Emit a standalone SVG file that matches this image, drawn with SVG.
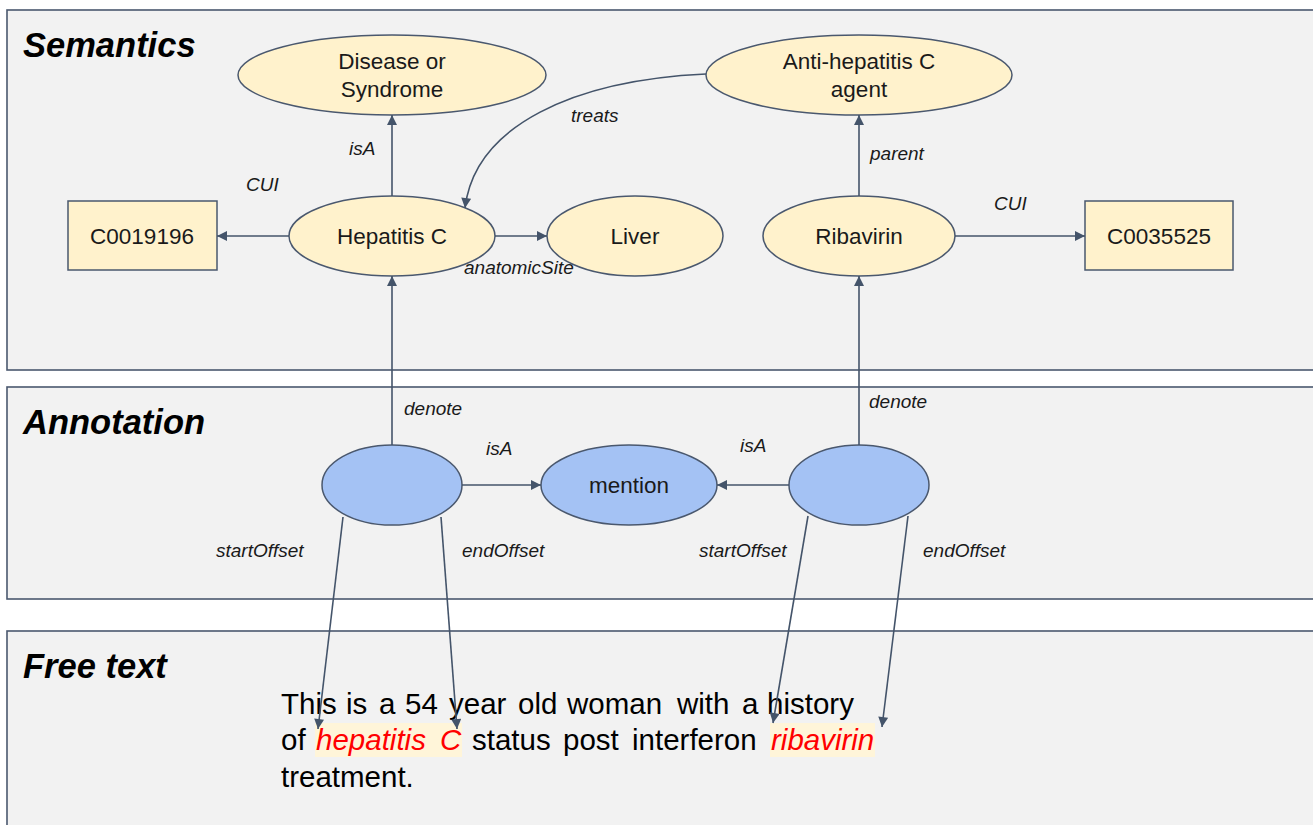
<svg xmlns="http://www.w3.org/2000/svg" width="1313" height="825" viewBox="0 0 1313 825">
  <defs>
    <marker id="arrow" viewBox="0 0 10 10" refX="10" refY="5" markerWidth="11" markerHeight="10" markerUnits="userSpaceOnUse" orient="auto">
      <path d="M0,0 L10,5 L0,10 z" fill="#44546a"/>
    </marker>
    <style>
      .panel { fill: #f2f2f2; stroke: #4a586e; stroke-width: 1.6; }
      .title { font-family: "Liberation Sans", Arial, sans-serif; font-size: 34.5px; font-weight: bold; font-style: italic; fill: #000; }
      .concept { fill: #fff2cc; stroke: #4a586e; stroke-width: 1.5; }
      .mention { fill: #a4c2f4; stroke: #4a586e; stroke-width: 1.5; }
      .label { font-family: "Liberation Sans", Arial, sans-serif; font-size: 22.5px; fill: #1a1a1a; text-anchor: middle; }
      .edge { font-family: "Liberation Sans", Arial, sans-serif; font-size: 19px; font-style: italic; fill: #1a1a1a; }
      .link { fill: none; stroke: #44546a; stroke-width: 1.6; marker-end: url(#arrow); }
      .prose { font-family: "Liberation Sans", Arial, sans-serif; font-size: 29.5px; fill: #000; }
      .hit { fill: #ff0000; font-style: italic; }
      .hl { fill: #fff5d9; }
    </style>
  </defs>

  <!-- layers -->
  <g id="semantics-panel">
    <rect class="panel" x="7" y="10" width="1320" height="360"/>
    <text class="title" x="23" y="57">Semantics</text>
  </g>
  <g id="annotation-panel">
    <rect class="panel" x="7" y="387" width="1320" height="212"/>
    <text class="title" x="23" y="434">Annotation</text>
  </g>
  <g id="freetext-panel">
    <rect class="panel" x="7" y="631" width="1320" height="210"/>
    <text class="title" x="23" y="678">Free text</text>
  </g>

  <!-- concept nodes -->
  <g id="disease-or-syndrome">
    <ellipse class="concept" cx="392" cy="75" rx="154" ry="40"/>
    <text class="label" x="392" y="69">Disease or</text>
    <text class="label" x="392" y="97">Syndrome</text>
  </g>
  <g id="anti-hepatitis-c-agent">
    <ellipse class="concept" cx="859" cy="75" rx="153" ry="40"/>
    <text class="label" x="859" y="69">Anti-hepatitis C</text>
    <text class="label" x="859" y="97">agent</text>
  </g>
  <g id="hepatitis-c">
    <ellipse class="concept" cx="392" cy="236" rx="103" ry="40"/>
    <text class="label" x="392" y="244">Hepatitis C</text>
  </g>
  <g id="liver">
    <ellipse class="concept" cx="635" cy="236" rx="88" ry="40"/>
    <text class="label" x="635" y="244">Liver</text>
  </g>
  <g id="ribavirin">
    <ellipse class="concept" cx="859" cy="236" rx="96" ry="40"/>
    <text class="label" x="859" y="244">Ribavirin</text>
  </g>
  <g id="cui-c0019196">
    <rect class="concept" x="68" y="201" width="149" height="69"/>
    <text class="label" x="142" y="244">C0019196</text>
  </g>
  <g id="cui-c0035525">
    <rect class="concept" x="1085" y="201" width="148" height="69"/>
    <text class="label" x="1159" y="244">C0035525</text>
  </g>

  <!-- annotation nodes -->
  <g id="annotation-hepatitis">
    <ellipse class="mention" cx="392" cy="485" rx="70" ry="40"/>
  </g>
  <g id="mention">
    <ellipse class="mention" cx="629" cy="485" rx="88" ry="40"/>
    <text class="label" x="629" y="493">mention</text>
  </g>
  <g id="annotation-ribavirin">
    <ellipse class="mention" cx="859" cy="485" rx="70" ry="40"/>
  </g>

  <!-- source text -->
  <g id="source-text">
    <rect class="hl" x="315" y="723" width="147" height="34"/>
    <rect class="hl" x="770" y="723" width="105" height="34"/>
    <text class="prose" y="714">
      <tspan x="281">This</tspan><tspan x="346">is</tspan><tspan x="379">a</tspan><tspan x="405">54</tspan><tspan x="449">year</tspan><tspan x="518">old</tspan><tspan x="567">woman</tspan><tspan x="677">with</tspan><tspan x="742">a</tspan><tspan x="767">history</tspan>
    </text>
    <text class="prose" y="750">
      <tspan x="281">of</tspan><tspan class="hit" x="316">hepatitis</tspan><tspan class="hit" x="440">C</tspan><tspan x="472">status</tspan><tspan x="563">post</tspan><tspan x="632">interferon</tspan><tspan class="hit" x="771">ribavirin</tspan>
    </text>
    <text class="prose" x="281" y="787">treatment.</text>
  </g>

  <!-- connectors -->
  <g id="connectors">
    <line class="link" x1="392" y1="196" x2="392" y2="115"/>
    <line class="link" x1="289" y1="236" x2="217" y2="236"/>
    <line class="link" x1="495" y1="236" x2="547" y2="236"/>
    <line class="link" x1="859" y1="196" x2="859" y2="115"/>
    <line class="link" x1="955" y1="236" x2="1085" y2="236"/>
    <path class="link" d="M706,74 C575,80 475,125 465,208"/>
    <line class="link" x1="392" y1="445" x2="392" y2="276"/>
    <line class="link" x1="859" y1="445" x2="859" y2="276"/>
    <line class="link" x1="462" y1="485" x2="541" y2="485"/>
    <line class="link" x1="789" y1="485" x2="717" y2="485"/>
    <line class="link" x1="343" y1="517" x2="318" y2="729"/>
    <line class="link" x1="441" y1="517" x2="457" y2="729"/>
    <line class="link" x1="808" y1="516" x2="773" y2="723"/>
    <line class="link" x1="908" y1="516" x2="882" y2="727"/>

    <text class="edge" x="349" y="155">isA</text>
    <text class="edge" x="246" y="191">CUI</text>
    <text class="edge" x="571" y="122">treats</text>
    <text class="edge" x="464" y="274">anatomicSite</text>
    <text class="edge" x="870" y="160">parent</text>
    <text class="edge" x="994" y="210">CUI</text>
    <text class="edge" x="404" y="415">denote</text>
    <text class="edge" x="869" y="408">denote</text>
    <text class="edge" x="486" y="455">isA</text>
    <text class="edge" x="740" y="452">isA</text>
    <text class="edge" x="216" y="557">startOffset</text>
    <text class="edge" x="462" y="557">endOffset</text>
    <text class="edge" x="699" y="557">startOffset</text>
    <text class="edge" x="923" y="557">endOffset</text>
  </g>
</svg>
